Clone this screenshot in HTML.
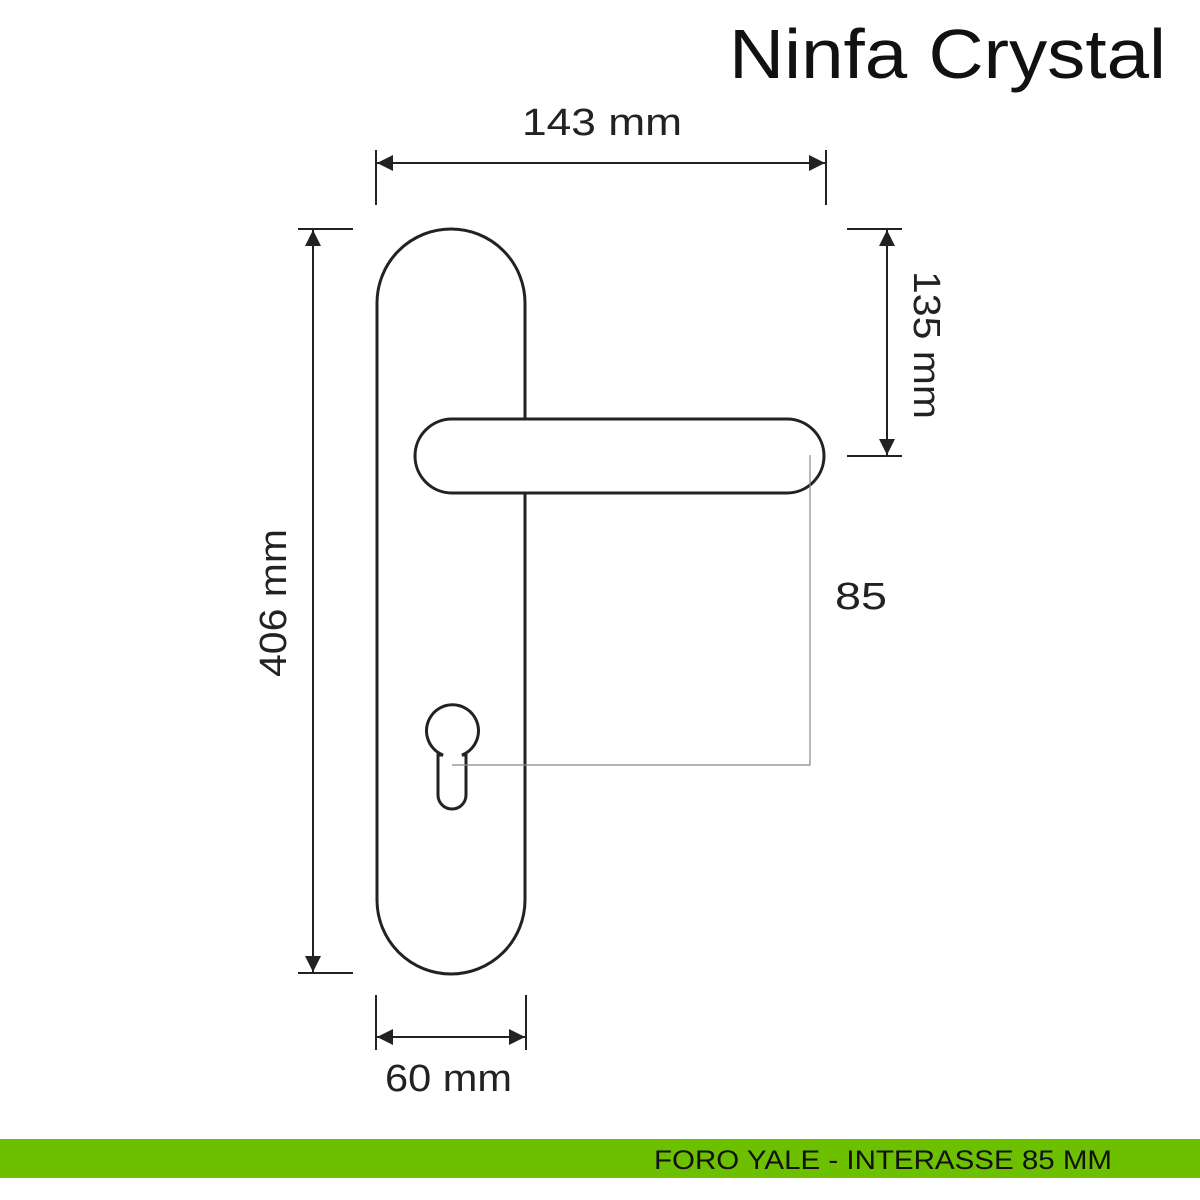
<!DOCTYPE html>
<html><head><meta charset="utf-8"><style>html,body{margin:0;padding:0;background:#fff}svg{display:block}</style></head>
<body>
<svg width="1200" height="1200" viewBox="0 0 1200 1200" xmlns="http://www.w3.org/2000/svg" font-family="Liberation Sans, sans-serif">
<defs>
<marker id="a" viewBox="0 0 10 10" refX="10" refY="5" markerWidth="16" markerHeight="16" markerUnits="userSpaceOnUse" orient="auto-start-reverse"><path d="M0,0 L10,5 L0,10 z" fill="#222"/></marker>
</defs>
<text x="1166" y="78" text-anchor="end" font-size="70" fill="#111" textLength="437" lengthAdjust="spacingAndGlyphs">Ninfa Crystal</text>
<!-- plate -->
<rect x="377" y="229" width="148" height="745" rx="74" ry="74" fill="#fff" stroke="#222" stroke-width="3"/>
<!-- lever -->
<rect x="415" y="419" width="409" height="74" rx="37" ry="37" fill="#fff" stroke="#222" stroke-width="3"/>
<!-- keyhole -->
<path d="M443,755 A26,26 0 1 1 462,755 L466,755 L466,795 A14,14 0 0 1 438,795 L438,755 Z" fill="#fff" stroke="#222" stroke-width="3" transform="translate(0,0)"/>
<!-- interaxis -->
<polyline points="452,765 810,765 810,455" fill="none" stroke="#888" stroke-width="1.2"/>
<!-- top dim -->
<g stroke="#222" stroke-width="2" fill="none">
<line x1="376" y1="150" x2="376" y2="205"/><line x1="826" y1="150" x2="826" y2="205"/>
<line x1="377" y1="163" x2="825" y2="163" marker-start="url(#a)" marker-end="url(#a)"/>
<line x1="298" y1="229" x2="353" y2="229"/><line x1="298" y1="973" x2="353" y2="973"/>
<line x1="313" y1="230" x2="313" y2="972" marker-start="url(#a)" marker-end="url(#a)"/>
<line x1="847" y1="229" x2="902" y2="229"/><line x1="847" y1="456" x2="902" y2="456"/>
<line x1="887" y1="230" x2="887" y2="455" marker-start="url(#a)" marker-end="url(#a)"/>
<line x1="376" y1="995" x2="376" y2="1050"/><line x1="526" y1="995" x2="526" y2="1050"/>
<line x1="377" y1="1037" x2="525" y2="1037" marker-start="url(#a)" marker-end="url(#a)"/>
</g>
<g fill="#222" font-size="38">
<text x="522" y="135" textLength="160" lengthAdjust="spacingAndGlyphs">143  mm</text>
<text x="385" y="1091" textLength="127" lengthAdjust="spacingAndGlyphs">60 mm</text>
<text x="835" y="609" textLength="52" lengthAdjust="spacingAndGlyphs">85</text>
<text transform="translate(286,677) rotate(-90)" textLength="148" lengthAdjust="spacingAndGlyphs">406 mm</text>
<text transform="translate(914,271) rotate(90)" textLength="148" lengthAdjust="spacingAndGlyphs">135 mm</text>
</g>
<rect x="0" y="1139" width="1200" height="39" fill="#6cc000"/>
<text x="654" y="1169" font-size="27" fill="#111" textLength="458" lengthAdjust="spacingAndGlyphs">FORO YALE - INTERASSE 85 MM</text>
</svg>
</body></html>
